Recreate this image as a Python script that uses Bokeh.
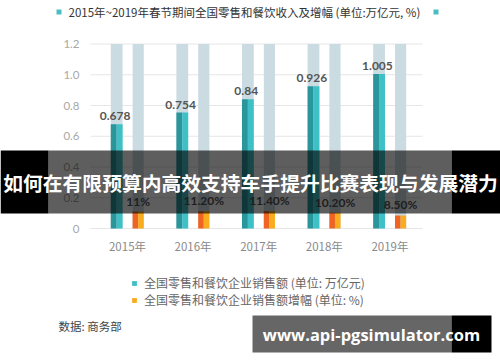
from bokeh.plotting import figure
from bokeh.models import (ColumnDataSource, Range1d, Label, BoxAnnotation,
                          Legend, LegendItem)
from bokeh.transform import dodge
from bokeh.core.properties import value
from bokeh.embed import file_html
from bokeh.resources import INLINE

# ---------------- data ----------------
years = ["2015年", "2016年", "2017年", "2018年", "2019年"]
sales = [0.678, 0.754, 0.84, 0.926, 1.005]          # 万亿元
growth = [11, 11.2, 11.4, 10.2, 8.5]                 # %
sales_labels = ["0.678", "0.754", "0.84", "0.926", "1.005"]
growth_labels = ["11%", "11.20%", "11.40%", "10.20%", "8.50%"]
y_ticks = [0, 0.2, 0.4, 0.6, 0.8, 1.0, 1.2]
y_tick_labels = ["0", "0.2", "0.4", "0.6", "0.8", "1.0", "1.2"]
y_max = 1.2

title_text = "2015年~2019年春节期间全国零售和餐饮收入及增幅 (单位:万亿元, %)"
legend_sales = "全国零售和餐饮企业销售额 (单位: 万亿元)"
legend_growth = "全国零售和餐饮企业销售额增幅 (单位: %)"
source_text = "数据: 商务部"
headline = "如何在有限预算内高效支持车手提升比赛表现与发展潜力"
watermark = "www.api-pgsimulator.com"

CJK = "Noto Sans CJK SC"

# plot-area extent (data units) for the grid lines
GRID_X0, GRID_X1 = -0.564, 4.497

src = ColumnDataSource(dict(
    x=list(range(len(years))),
    year=years,
    zero=[0] * len(years),
    sales=sales,
    growth_frac=[g / 100 for g in growth],
    top_bg=[y_max] * len(years),
    sales_lbl=sales_labels,
    growth_lbl=growth_labels,
))
tick_src = ColumnDataSource(dict(y=y_ticks, lbl=y_tick_labels,
                                 x0=[GRID_X0] * len(y_ticks),
                                 x1=[GRID_X1] * len(y_ticks)))

W, H = 500, 362
p = figure(width=W, height=H, output_backend="svg", toolbar_location=None,
           x_range=Range1d(-127 / 65.6, (W - 127) / 65.6),
           y_range=Range1d(-(H - 228) / 153.75, 228 / 153.75),
           min_border=0, x_axis_location=None, y_axis_location=None)
p.outline_line_color = None
p.background_fill_color = "white"
p.border_fill_color = "white"
p.grid.visible = False

# horizontal grid lines
p.segment(x0="x0", x1="x1", y0="y", y1="y", source=tick_src,
          line_color="#e6e6e6", line_width=1)
# y tick labels
p.text(x="x0", y="y", text="lbl", source=tick_src, x_offset=-11,
       text_align="right", text_baseline="middle",
       text_font=value("Lato"), text_font_size="11.5px", text_color="#a8a8a8")

# background columns
p.vbar(x=dodge("x", -0.165, range=p.x_range), top="top_bg", bottom=0, width=0.18,
       source=src, fill_color="#cbdbe2", line_color=None)
p.vbar(x=dodge("x", 0.163, range=p.x_range), top="top_bg", bottom=0, width=0.17,
       source=src, fill_color="#cbdbe2", line_color=None)

# sales bars (two-tone)
p.vbar(x=dodge("x", -0.21, range=p.x_range), top="sales", bottom=0, width=0.09,
       source=src, fill_color="#2a969c", line_color=None)
teal_r = p.vbar(x=dodge("x", -0.12, range=p.x_range), top="sales", bottom=0, width=0.09,
                source=src, fill_color="#3ec0c7", line_color=None)

# growth bars (two-tone)
p.vbar(x=dodge("x", 0.12, range=p.x_range), top="growth_frac", bottom=0, width=0.085,
       source=src, fill_color="#f06423", line_color=None)
orange_r = p.vbar(x=dodge("x", 0.205, range=p.x_range), top="growth_frac", bottom=0, width=0.085,
                  source=src, fill_color="#f8ac1e", line_color=None)

# value labels
p.text(x=dodge("x", -0.19, range=p.x_range), y="sales", text="sales_lbl", source=src,
       text_align="center", text_baseline="bottom", y_offset=-4,
       text_font=value("Lato"), text_font_style="bold", text_font_size="12px",
       text_color="#555555")
p.text(x=dodge("x", 0.163, range=p.x_range), y="growth_frac", text="growth_lbl", source=src,
       text_align="center", text_baseline="bottom", y_offset=-3,
       text_font=value("Lato"), text_font_style="bold", text_font_size="12px",
       text_color="#555555")

# x category labels
p.text(x="x", y="zero", text="year", source=src, y_offset=17,
       text_align="center", text_baseline="middle",
       text_font=value(CJK), text_font_size="11.5px", text_color="#8a8a8a")

# legend below the bars (location: px from the frame's bottom-left)
legend = Legend(items=[LegendItem(label=legend_sales, renderers=[teal_r]),
                       LegendItem(label=legend_growth, renderers=[orange_r])],
                location=(131, 54), orientation="vertical",
                glyph_width=6, glyph_height=6, label_standoff=7, spacing=0,
                label_height=17, padding=5, margin=0,
                border_line_color=None, background_fill_alpha=0,
                label_text_font=CJK, label_text_font_size="12px",
                label_text_color="#666666")
p.add_layout(legend, "center")

# title with squares
p.add_layout(Label(x=68, y=11, x_units="canvas", y_units="canvas", text=title_text,
                   text_font=CJK, text_font_size="11.5px", text_color="#333333",
                   text_baseline="middle", text_align="left"))
for l in (56, 433):
    p.add_layout(BoxAnnotation(left=l, right=l + 5, top=9, bottom=14,
                               left_units="canvas", right_units="canvas",
                               top_units="canvas", bottom_units="canvas",
                               fill_color="#4bbdc0", fill_alpha=1, line_color=None))

# data source note
p.add_layout(Label(x=58, y=325, x_units="canvas", y_units="canvas", text=source_text,
                   text_font=CJK, text_font_size="11.5px", text_color="#444444",
                   text_baseline="middle", text_align="left"))

# headline band overlay
for l, r, a in ((0, 48, 1.0), (48, 451, 0.63), (451, 500, 1.0)):
    p.add_layout(BoxAnnotation(left=l, right=r, top=150, bottom=213,
                               left_units="canvas", right_units="canvas",
                               top_units="canvas", bottom_units="canvas",
                               fill_color="black", fill_alpha=a, line_color=None,
                               level="overlay"))
p.add_layout(Label(x=250, y=181.5, x_units="canvas", y_units="canvas", text=headline,
                   text_font=CJK, text_font_style="bold", text_font_size="19.8px",
                   text_color="white", text_baseline="middle", text_align="center",
                   level="overlay"))

# watermark box
for l, r, a in ((252, 451, 0.6), (451, 491, 1.0)):
    p.add_layout(BoxAnnotation(left=l, right=r, top=315, bottom=352,
                               left_units="canvas", right_units="canvas",
                               top_units="canvas", bottom_units="canvas",
                               fill_color="black", fill_alpha=a, line_color=None,
                               level="overlay"))
p.add_layout(Label(x=371, y=334, x_units="canvas", y_units="canvas", text=watermark,
                   text_font="Open Sans",
                   text_font_style="bold", text_font_size="16.5px",
                   text_color="white", text_baseline="middle", text_align="center",
                   level="overlay"))

open("out.html", "w").write(file_html(p, INLINE))
